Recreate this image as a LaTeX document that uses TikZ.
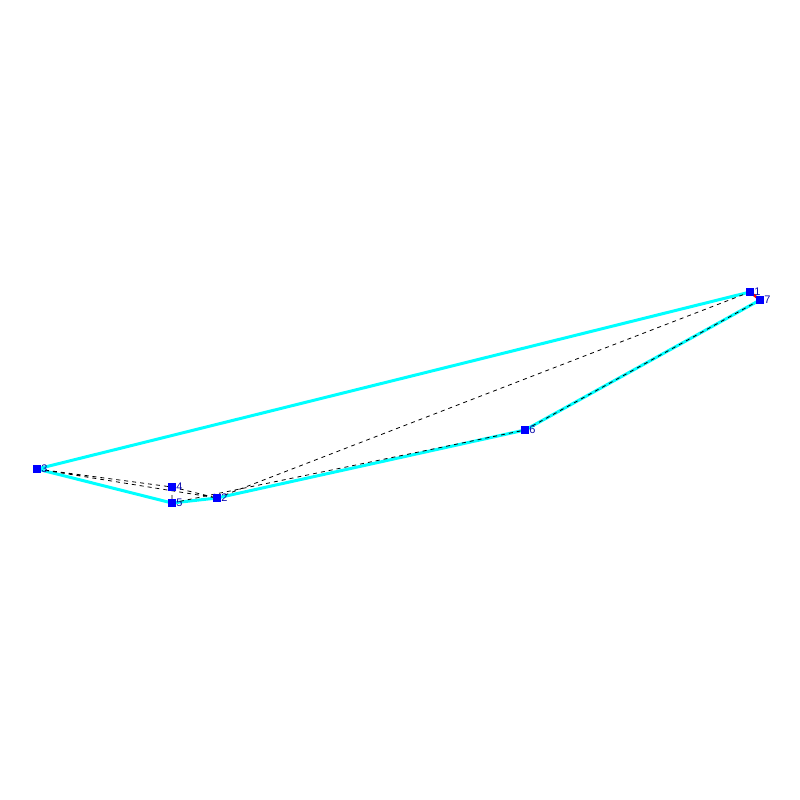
\documentclass[tikz,border=0pt]{standalone}
\usepackage{fontspec}
\setsansfont{Liberation Sans}
\usepackage{tikz}
\usetikzlibrary{arrows}
\definecolor{hullcyan}{RGB}{0,255,255}
\definecolor{vtxblue}{RGB}{0,0,255}
\definecolor{lblblue}{RGB}{10,10,170}

\begin{document}
\begin{tikzpicture}[x=1pt,
            y=-1pt,
            hull/.style={draw=hullcyan, line width=3pt},
            link/.style={draw=black, dashed, dash pattern=on 4pt off 4pt, line width=0.8pt},
            vtx/.style={fill=vtxblue, minimum size=7.5pt, inner sep=0pt,
                        label={[font=\sffamily\fontsize{11}{11}\selectfont, text=lblblue,
                                inner sep=0.3pt, anchor=west]east:#1}}]

        \useasboundingbox (0,0) rectangle (800,800);

        \coordinate (1) at (750,292);
        \coordinate (7) at (760,300);
        \coordinate (6) at (525,430);
        \coordinate (2) at (217,498);
        \coordinate (5) at (172,503);
        \coordinate (4) at (172,487);
        \coordinate (3) at (37,469);

        % outer polygon
        \path[hull] (3) -- (1);
        \path[hull] (7) -- (6) -- (2) -- (5) -- (3);

        % dashed links
        \path[link] (3) -- (4)
                    (3) -- (2)
                    (4) -- (5)
                    (4) -- (2)
                    (5) -- (6)
                    (2) -- (1)
                    (6) -- (7);
        \path[draw=red, line width=2.5pt] (1) -- (7);

        \node[vtx=1] (n1) at (1) {};
        \node[vtx=7] (n7) at (7) {};
        \node[vtx=6] (n6) at (6) {};
        \node[vtx=2] (n2) at (2) {};
        \node[vtx=5] (n5) at (5) {};
        \node[vtx=4] (n4) at (4) {};
        \node[vtx=3] (n3) at (3) {};

    \end{tikzpicture}
\end{document}
